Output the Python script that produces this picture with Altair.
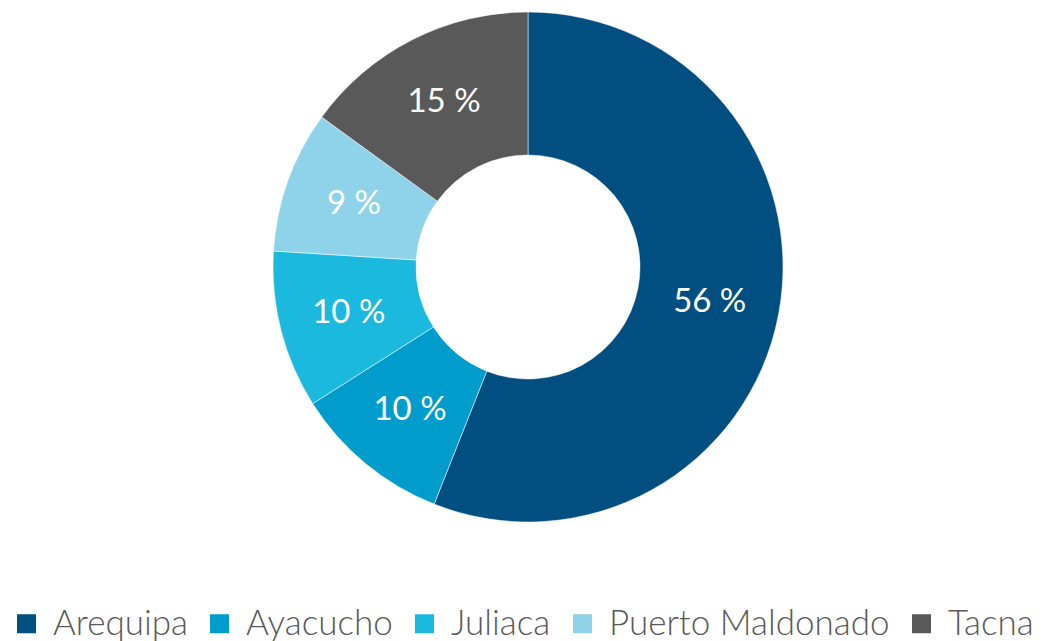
import altair as alt
import pandas as pd

categories = ["Arequipa", "Ayacucho", "Juliaca", "Puerto Maldonado", "Tacna"]
values = [56, 10, 10, 9, 15]
colors = ["#004f80", "#009dcc", "#1cb9de", "#8fd3ea", "#595959"]

df = pd.DataFrame({
    "region": categories,
    "value": values,
    "order": list(range(len(categories))),
    "label": [f"{v} %" for v in values],
})

base = alt.Chart(df).encode(
    theta=alt.Theta("value:Q", stack=True),
    order=alt.Order("order:Q"),
)

arc = base.mark_arc(outerRadius=255, innerRadius=112, stroke="white", strokeWidth=0.5).encode(
    color=alt.Color(
        "region:N",
        scale=alt.Scale(domain=categories, range=colors),
        sort=categories,
        legend=alt.Legend(
            title=None,
            orient="none",
            legendX=-9,
            legendY=598,
            direction="horizontal",
            symbolType="square",
            symbolSize=361,
            symbolStrokeWidth=0,
            labelFont="Lato",
            labelFontSize=35,
            labelFontWeight=300,
            labelColor="#595959",
            labelLimit=500,
            columnPadding=14,
            symbolOffset=0,
            labelOffset=9,
            padding=0,
        ),
    )
)

text = base.mark_text(radius=185, font="Lato", fontSize=33, color="white").encode(
    text="label:N"
)

chart = (arc + text).properties(
    width=1020, height=518,
    padding={"left": 10, "top": 0, "right": 0, "bottom": 115},
    autosize=alt.AutoSizeParams(type="none"),
).configure_view(stroke=None)

chart.save("out.html", embed_options={"renderer": "svg", "actions": False})
